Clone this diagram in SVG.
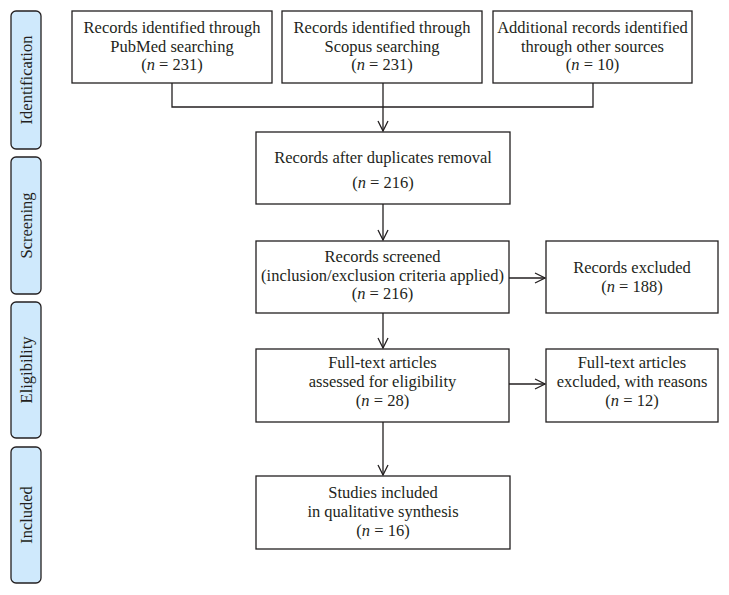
<svg xmlns="http://www.w3.org/2000/svg" width="729" height="595" viewBox="0 0 729 595">
<defs>
<style>
.box{fill:#fff;stroke:#231f20;stroke-width:1.3}
.side{fill:#cfe9fc;stroke:#231f20;stroke-width:1.3}
.t{font-family:"Liberation Serif","Times New Roman",serif;font-size:16.5px;fill:#231f20;text-anchor:middle}
.c{fill:none;stroke:#231f20;stroke-width:1.3}
</style>
<marker id="ah" viewBox="0 0 12 12" refX="11" refY="6" markerWidth="12" markerHeight="12" markerUnits="userSpaceOnUse" orient="auto">
<path d="M1,1 L11,6 L1,11" fill="none" stroke="#231f20" stroke-width="1.3"/>
</marker>
</defs>
<rect width="729" height="595" fill="#fff"/>
<g id="side-identification"><rect class="side" x="11" y="11" width="30" height="138" rx="5"/><text class="t" transform="translate(31.5,80) rotate(-90)">Identification</text></g>
<g id="side-screening"><rect class="side" x="11" y="157" width="30" height="137" rx="5"/><text class="t" transform="translate(31.5,225.5) rotate(-90)">Screening</text></g>
<g id="side-eligibility"><rect class="side" x="11" y="302" width="30" height="136" rx="5"/><text class="t" transform="translate(31.5,370) rotate(-90)">Eligibility</text></g>
<g id="side-included"><rect class="side" x="11" y="447" width="30" height="136" rx="5"/><text class="t" transform="translate(31.5,515) rotate(-90)">Included</text></g>

<g id="pubmed"><rect class="box" x="72" y="11" width="200" height="72"/>
<text class="t" x="172" y="33">Records identified through</text>
<text class="t" x="172" y="51.5">PubMed searching</text>
<text class="t" x="172" y="70">(<tspan font-style="italic">n</tspan> = 231)</text></g>
<g id="scopus"><rect class="box" x="282" y="11" width="200" height="72"/>
<text class="t" x="382" y="33">Records identified through</text>
<text class="t" x="382" y="51.5">Scopus searching</text>
<text class="t" x="382" y="70">(<tspan font-style="italic">n</tspan> = 231)</text></g>
<g id="other"><rect class="box" x="493" y="11" width="199" height="72"/>
<text class="t" x="592.5" y="33">Additional records identified</text>
<text class="t" x="592.5" y="51.5">through other sources</text>
<text class="t" x="592.5" y="70">(<tspan font-style="italic">n</tspan> = 10)</text></g>

<g id="dedup"><rect class="box" x="256" y="132" width="254" height="72"/>
<text class="t" x="383" y="163">Records after duplicates removal</text>
<text class="t" x="383" y="188">(<tspan font-style="italic">n</tspan> = 216)</text></g>
<g id="screened"><rect class="box" x="256" y="241" width="253" height="72"/>
<text class="t" x="382.5" y="262">Records screened</text>
<text class="t" x="382.5" y="280.5">(inclusion/exclusion criteria applied)</text>
<text class="t" x="382.5" y="299">(<tspan font-style="italic">n</tspan> = 216)</text></g>
<g id="excluded"><rect class="box" x="546" y="241" width="172" height="72"/>
<text class="t" x="632" y="273">Records excluded</text>
<text class="t" x="632" y="291.5">(<tspan font-style="italic">n</tspan> = 188)</text></g>
<g id="fulltext"><rect class="box" x="256" y="349" width="253" height="73"/>
<text class="t" x="382.5" y="368">Full-text articles</text>
<text class="t" x="382.5" y="387">assessed for eligibility</text>
<text class="t" x="382.5" y="405.5">(<tspan font-style="italic">n</tspan> = 28)</text></g>
<g id="ft-excluded"><rect class="box" x="546" y="349" width="172" height="73"/>
<text class="t" x="632" y="368">Full-text articles</text>
<text class="t" x="632" y="387">excluded, with reasons</text>
<text class="t" x="632" y="405.5">(<tspan font-style="italic">n</tspan> = 12)</text></g>
<g id="included"><rect class="box" x="256" y="476" width="254" height="73"/>
<text class="t" x="383" y="498">Studies included</text>
<text class="t" x="383" y="517">in qualitative synthesis</text>
<text class="t" x="383" y="535.5">(<tspan font-style="italic">n</tspan> = 16)</text></g>

<g id="connectors">
<path class="c" d="M172,83 V107 H593 V83"/>
<path class="c" d="M383,83 V131" marker-end="url(#ah)"/>
<path class="c" d="M383,204 V240" marker-end="url(#ah)"/>
<path class="c" d="M383,313 V348" marker-end="url(#ah)"/>
<path class="c" d="M383,422 V475" marker-end="url(#ah)"/>
<path class="c" d="M509,278 H545" marker-end="url(#ah)"/>
<path class="c" d="M509,384 H545" marker-end="url(#ah)"/>
</g>
</svg>
